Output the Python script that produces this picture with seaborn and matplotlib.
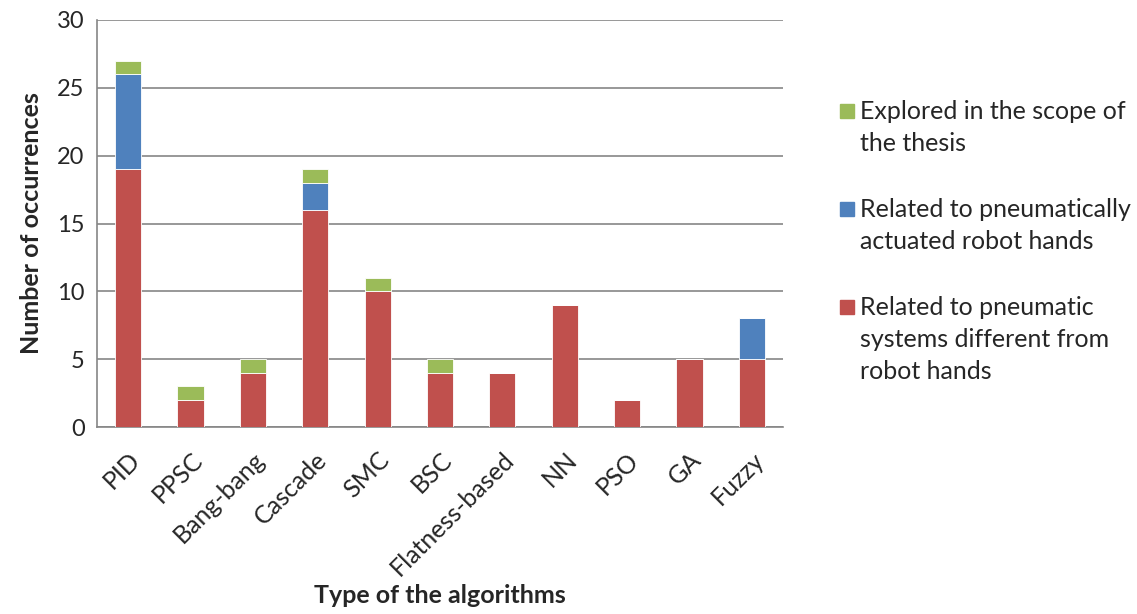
import numpy as np
import pandas as pd
import seaborn as sns
import matplotlib.pyplot as plt
from matplotlib.patches import Rectangle

# ---- Data ----
algorithms = ["PID", "PPSC", "Bang-bang", "Cascade", "SMC", "BSC",
              "Flatness-based", "NN", "PSO", "GA", "Fuzzy"]
pneumatic_systems = [19, 2, 4, 16, 10, 4, 4, 9, 2, 5, 5]
robot_hands = [7, 0, 0, 2, 0, 0, 0, 0, 0, 0, 3]
thesis = [1, 1, 1, 1, 1, 1, 0, 0, 0, 0, 0]

# legend entries, top to bottom, already wrapped like the original
legend_lines = [["Explored in the scope of", "the thesis"],
                ["Related to pneumatically", "actuated robot hands"],
                ["Related to pneumatic", "systems different from", "robot hands"]]
colors = {"red": "#C0504D", "blue": "#4F81BD", "green": "#9BBB59"}

df = pd.DataFrame({"Algorithm": algorithms,
                   "Systems": pneumatic_systems,
                   "Hands": robot_hands,
                   "Thesis": thesis})

sns.set_style("white")
plt.rcParams["font.family"] = ["Lato", "DejaVu Sans"]
grey = "#868686"

W, H = 1137, 614
fig = plt.figure(figsize=(W / 100, H / 100), dpi=100)
ax = fig.add_axes([97 / W, 1 - 427 / H, 686 / W, 407 / H])

# ---- stacked bars ----
bar_kw = dict(width=0.42, edgecolor="white", linewidth=0.6, zorder=3)
sns.barplot(data=df, x="Algorithm", y="Systems", color=colors["red"],
            saturation=1, ax=ax, **bar_kw)
sns.barplot(data=df, x="Algorithm", y="Hands", color=colors["blue"],
            bottom=df["Systems"], saturation=1, ax=ax, **bar_kw)
sns.barplot(data=df, x="Algorithm", y="Thesis", color=colors["green"],
            bottom=df["Systems"] + df["Hands"], saturation=1, ax=ax, **bar_kw)

# ---- axes styling ----
ax.set_ylim(0, 30)
ax.set_xlim(-0.5, len(algorithms) - 0.5)
ax.set_yticks(range(0, 31, 5))
ax.yaxis.grid(True, color=grey, linewidth=1.2, zorder=0)
ax.set_axisbelow(True)
for side in ["top", "right"]:
    ax.spines[side].set_visible(False)
for side in ["left", "bottom"]:
    ax.spines[side].set_color(grey)
    ax.spines[side].set_linewidth(1.2)

ax.tick_params(axis="y", length=5, width=1.2, color=grey, labelsize=17, pad=4)
ax.tick_params(axis="x", which="major", length=0, labelsize=18, pad=15)
ax.set_xticks(np.arange(-0.5, len(algorithms)), minor=True)
ax.tick_params(axis="x", which="minor", length=5, width=1.2, color=grey)
plt.setp(ax.get_xticklabels(), rotation=45, ha="right", rotation_mode="anchor")

ax.set_xlabel("Type of the algorithms", fontsize=18, fontweight="bold", labelpad=3)
ax.set_ylabel("Number of occurrences", fontsize=18, fontweight="bold", labelpad=10)

# ---- legend (squares sit on the first line of each wrapped label) ----
legend_colors = [colors["green"], colors["blue"], colors["red"]]
first_baselines = [119, 217, 315]
line_step = 32
for lines, col, base in zip(legend_lines, legend_colors, first_baselines):
    fig.patches.append(Rectangle((840 / W, 1 - (base - 1) / H), 14 / W, 14 / H,
                                 transform=fig.transFigure, color=col))
    for i, line in enumerate(lines):
        fig.text(860 / W, 1 - (base + i * line_step) / H, line,
                 fontsize=18, va="baseline", ha="left")

fig.savefig("out.png", dpi=100)
